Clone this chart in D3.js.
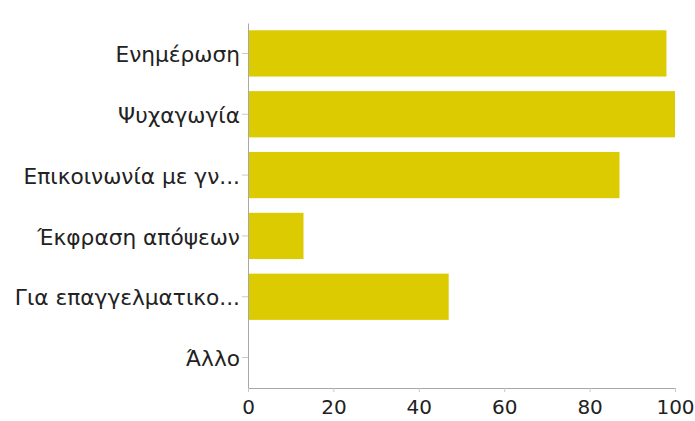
<!DOCTYPE html>
<html>
<head>
<meta charset="utf-8">
<script src="https://cdn.jsdelivr.net/npm/d3@7"></script>
<style>
  body { margin: 0; background: #fff; }
  svg { display: block; }
</style>
</head>
<body>
<div id="chart"></div>
<script>
const categories = [
  "Ενημέρωση",
  "Ψυχαγωγία",
  "Επικοινωνία με γν...",
  "Έκφραση απόψεων",
  "Για επαγγελματικο...",
  "Άλλο"
];
const values = [98, 100, 87, 13, 47, 0];
const xTicks = [0, 20, 40, 60, 80, 100];

const width = 695, height = 421;
const margin = { top: 23, right: 20, bottom: 33, left: 248 };
const innerW = 675 - margin.left;
const innerH = height - margin.top - margin.bottom;
const font = '"DejaVu Sans", "Liberation Sans", sans-serif';

const svg = d3.select("#chart").append("svg")
  .attr("width", width)
  .attr("height", height);

const g = svg.append("g")
  .attr("transform", `translate(${margin.left},${margin.top})`);

const x = d3.scaleLinear().domain([0, 100]).range([0, innerW]);
const y = d3.scaleBand().domain(categories).range([0, innerH]).paddingInner(0.24).paddingOuter(0.12);

// bars
g.selectAll("rect.bar")
  .data(categories.map((c, i) => ({ c, v: values[i] })))
  .join("rect")
  .attr("class", "bar")
  .attr("x", 0)
  .attr("y", d => y(d.c))
  .attr("width", d => x(d.v))
  .attr("height", y.bandwidth())
  .attr("fill", "#dccb00");

// y axis
const yAxis = g.append("g")
  .call(d3.axisLeft(y).tickSize(6).tickPadding(2).tickSizeOuter(0));
yAxis.attr("font-family", font);
yAxis.select(".domain").attr("stroke", "#a8a8a8");
yAxis.selectAll(".tick line").attr("stroke", "#c8c8c8");
yAxis.selectAll(".tick text")
  .attr("font-size", 21.7)
  .attr("dy", "0.4em")
  .attr("fill", "#222");

// x axis
const xAxis = g.append("g")
  .attr("transform", `translate(0,${innerH})`)
  .call(d3.axisBottom(x).tickValues(xTicks).tickSize(4).tickPadding(8).tickSizeOuter(0));
xAxis.attr("font-family", font);
xAxis.select(".domain").attr("stroke", "#a8a8a8");
xAxis.selectAll(".tick line").attr("stroke", "#c8c8c8");
xAxis.selectAll(".tick text")
  .attr("font-size", 20)
  .attr("fill", "#222");
</script>
</body>
</html>
